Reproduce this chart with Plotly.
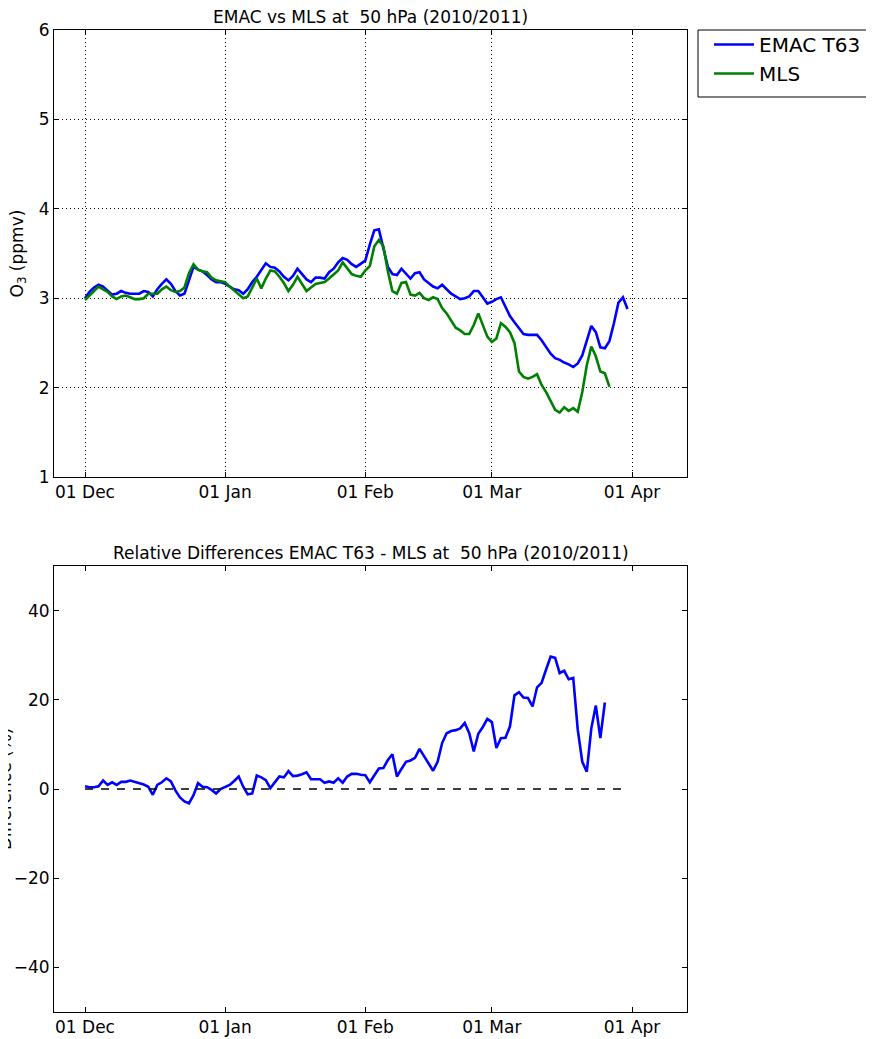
import plotly.graph_objects as go
import pandas as pd

start_date = "2010-12-01"

emac_o3 = [3.00, 3.07, 3.12, 3.15, 3.13, 3.08, 3.04, 3.05, 3.08, 3.06,
           3.05, 3.05, 3.05, 3.08, 3.07, 3.02, 3.10, 3.16, 3.21, 3.16,
           3.08, 3.03, 3.05, 3.20, 3.35, 3.32, 3.30, 3.26, 3.21, 3.18,
           3.18, 3.16, 3.13, 3.10, 3.09, 3.05, 3.10, 3.18, 3.24, 3.32,
           3.39, 3.35, 3.34, 3.30, 3.24, 3.20, 3.25, 3.33, 3.27, 3.21,
           3.18, 3.23, 3.23, 3.22, 3.29, 3.33, 3.40, 3.45, 3.43, 3.38,
           3.35, 3.39, 3.42, 3.60, 3.76, 3.77, 3.55, 3.35, 3.27, 3.26,
           3.33, 3.27, 3.22, 3.28, 3.29, 3.21, 3.17, 3.13, 3.11, 3.15,
           3.10, 3.05, 3.02, 2.99, 3.00, 3.02, 3.08, 3.08, 3.01, 2.94,
           2.96, 2.99, 3.01, 2.90, 2.80, 2.73, 2.66, 2.60, 2.59, 2.59,
           2.59, 2.53, 2.45, 2.38, 2.33, 2.31, 2.28, 2.26, 2.23, 2.27,
           2.36, 2.52, 2.69, 2.62, 2.45, 2.44, 2.52, 2.72, 2.95, 3.01,
           2.88]

mls_o3 = [2.98, 3.03, 3.09, 3.13, 3.10, 3.07, 3.02, 2.99, 3.02, 3.03,
          3.01, 2.99, 2.99, 3.00, 3.05, 3.05, 3.05, 3.10, 3.13, 3.09,
          3.07, 3.08, 3.12, 3.28, 3.38, 3.32, 3.30, 3.29, 3.23, 3.20,
          3.19, 3.18, 3.13, 3.09, 3.05, 3.00, 3.02, 3.12, 3.22, 3.11,
          3.22, 3.31, 3.30, 3.24, 3.17, 3.08, 3.15, 3.24, 3.16, 3.08,
          3.12, 3.16, 3.17, 3.18, 3.22, 3.26, 3.31, 3.40, 3.33, 3.27,
          3.25, 3.24, 3.31, 3.36, 3.58, 3.65, 3.58, 3.30, 3.08, 3.05,
          3.17, 3.18, 3.04, 3.03, 3.06, 3.00, 2.98, 3.01, 2.99, 2.89,
          2.83, 2.75, 2.67, 2.64, 2.60, 2.60, 2.70, 2.83, 2.70, 2.57,
          2.51, 2.55, 2.72, 2.68, 2.62, 2.50, 2.18, 2.12, 2.10, 2.12,
          2.15, 2.03, 1.95, 1.85, 1.75, 1.72, 1.78, 1.74, 1.77, 1.73,
          1.95, 2.25, 2.46, 2.35, 2.18, 2.16, 2.01]

rel_diff = [0.6, 0.4, 0.4, 0.6, 1.9, 0.9, 1.5, 0.9, 1.6, 1.6,
            1.9, 1.6, 1.4, 1.0, 0.5, -1.3, 0.9, 1.5, 2.4, 1.7,
            -0.3, -1.9, -2.8, -3.2, -1.4, 1.3, 0.5, 0.4, -0.2, -1.0,
            0.0, 0.5, 0.9, 1.8, 2.8, 0.5, -1.2, -1.0, 3.0, 2.6,
            2.0, 0.2, 1.5, 2.8, 2.6, 4.0, 2.9, 3.0, 3.3, 3.75,
            2.2, 2.2, 2.2, 1.4, 1.7, 1.4, 2.4, 1.4, 2.8, 3.4,
            3.4, 3.2, 3.1, 1.5, 3.2, 4.6, 4.7, 6.5, 7.8, 2.8,
            4.5, 6.1, 6.4, 7.0, 9.0, 7.3, 5.7, 4.1, 6.1, 10.3,
            12.5, 13.0, 13.2, 13.6, 14.8, 12.5, 8.4, 12.4, 13.9, 15.7,
            15.0, 9.2, 11.4, 11.5, 14.0, 21.0, 21.7, 20.5, 20.4, 18.5,
            22.8, 23.8, 26.8, 29.7, 29.4, 26.0, 26.5, 24.6, 24.9, 13.3,
            6.1, 3.9, 13.6, 18.7, 11.4, 19.4]

zero_line_dates = ["2010-12-01", "2011-03-30"]
zero_line_vals = [0, 0]

tick_dates = ["2010-12-01", "2011-01-01", "2011-02-01", "2011-03-01", "2011-04-01"]
tick_labels = ["01 Dec", "01 Jan", "01 Feb", "01 Mar", "01 Apr"]
x_range = ["2010-11-24 03:26", "2011-04-13 04:00"]

top_ticks = [1, 2, 3, 4, 5, 6]
bottom_ticks = [-40, -20, 0, 20, 40]

title_top = "EMAC vs MLS at\u00a0 50 hPa (2010/2011)"
title_bottom = "Relative Differences EMAC T63 - MLS at\u00a0 50 hPa (2010/2011)"

dates_emac = pd.date_range(start_date, periods=len(emac_o3), freq="D")
dates_mls = pd.date_range(start_date, periods=len(mls_o3), freq="D")
dates_diff = pd.date_range(start_date, periods=len(rel_diff), freq="D")

# page body has an 8px margin: figure is drawn at (8, 8) in the window
OFF = 8
W, H = 874, 1039 - OFF
FONT = "DejaVu Sans"


def px_x(x):
    return (x - OFF) / W


def px_y(y):
    return (H - (y - OFF)) / H


fig = go.Figure()
fig.add_trace(go.Scatter(x=dates_emac, y=emac_o3, mode="lines", name="EMAC T63",
                         line=dict(color="#0000ff", width=2.6), xaxis="x", yaxis="y"))
fig.add_trace(go.Scatter(x=dates_mls, y=mls_o3, mode="lines", name="MLS",
                         line=dict(color="#008000", width=2.6), xaxis="x", yaxis="y"))
fig.add_trace(go.Scatter(x=dates_diff, y=rel_diff, mode="lines", showlegend=False,
                         line=dict(color="#0000ff", width=2.6), xaxis="x2", yaxis="y2"))
fig.add_trace(go.Scatter(x=zero_line_dates, y=zero_line_vals, mode="lines", showlegend=False,
                         line=dict(color="black", width=1.5, dash="8px,8px"), xaxis="x2", yaxis="y2"))

xd = [px_x(54), px_x(687)]
top_dom = [px_y(477), px_y(30)]
bot_dom = [px_y(1012), px_y(566)]

tickfont = dict(family=FONT, size=17, color="black")
common_x = dict(type="date", range=x_range, tickvals=tick_dates, ticktext=tick_labels,
                showline=True, linecolor="black", linewidth=1, mirror="ticks",
                ticks="inside", ticklen=5, tickcolor="black", automargin=False,
                tickfont=tickfont, zeroline=False, domain=xd)
common_y = dict(showline=True, linecolor="black", linewidth=1, mirror="ticks",
                ticks="inside", ticklen=5, tickcolor="black", automargin=False,
                tickfont=tickfont, zeroline=False)

fig.update_layout(
    template="none",
    width=W, height=H,
    margin=dict(l=0, r=0, t=0, b=0),
    paper_bgcolor="white", plot_bgcolor="white",
    font=dict(family=FONT, color="black"),
    xaxis=dict(**common_x, anchor="y", showgrid=True, gridcolor="black", gridwidth=1,
               griddash="1px,3px"),
    yaxis=dict(**common_y, domain=top_dom, anchor="x", range=[1, 6], tickvals=top_ticks,
               showgrid=True, gridcolor="black", gridwidth=1, griddash="1px,3px"),
    xaxis2=dict(**common_x, anchor="y2", showgrid=False),
    yaxis2=dict(**common_y, domain=bot_dom, anchor="x2", range=[-50, 50],
                tickvals=bottom_ticks, showgrid=False),
    legend=dict(x=px_x(709), y=px_y(25), xanchor="left", yanchor="top",
                borderwidth=0, bgcolor="rgba(0,0,0,0)",
                font=dict(family=FONT, size=20, color="black"),
                itemwidth=40, tracegroupgap=0),
    shapes=[dict(type="rect", xref="paper", yref="paper",
                 x0=px_x(698), x1=px_x(900), y0=px_y(97), y1=px_y(30),
                 line=dict(color="black", width=1), fillcolor="rgba(0,0,0,0)")],
    annotations=[
        dict(text=title_top, x=(xd[0] + xd[1]) / 2, y=px_y(17), xref="paper", yref="paper",
             showarrow=False, xanchor="center", yanchor="middle",
             font=dict(family=FONT, size=17, color="black")),
        dict(text=title_bottom, x=(xd[0] + xd[1]) / 2, y=px_y(553), xref="paper", yref="paper",
             showarrow=False, xanchor="center", yanchor="middle",
             font=dict(family=FONT, size=17, color="black")),
        dict(text="O<sub>3</sub> (ppmv)", x=px_x(18), y=(top_dom[0] + top_dom[1]) / 2,
             xref="paper", yref="paper", showarrow=False, textangle=-90,
             xanchor="center", yanchor="middle",
             font=dict(family=FONT, size=17, color="black")),
        dict(text="Difference (%)", x=px_x(5), y=(bot_dom[0] + bot_dom[1]) / 2,
             xref="paper", yref="paper", showarrow=False, textangle=-90,
             xanchor="center", yanchor="middle",
             font=dict(family=FONT, size=17, color="black")),
    ],
)

fig.write_html("out.html")
